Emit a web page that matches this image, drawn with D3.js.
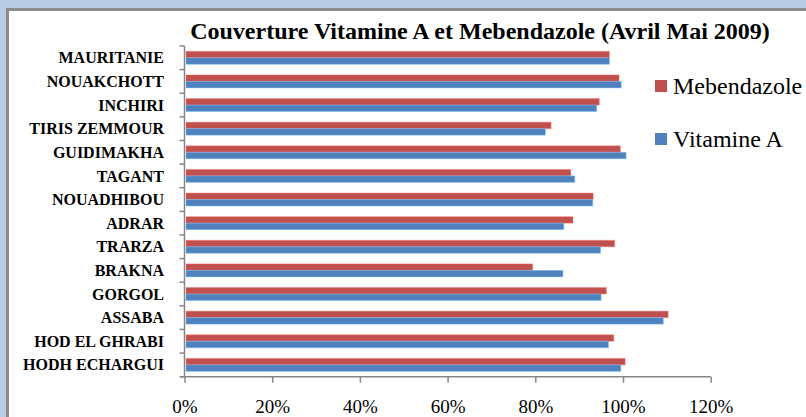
<!DOCTYPE html>
<html lang="en">
<head>
    <meta charset="UTF-8">
    <script src="https://cdn.jsdelivr.net/npm/d3@7/dist/d3.min.js"></script>
    <title>Couverture Vitamine A et Mebendazole</title>
    <style>
        body { margin: 0; background: #b9cde5; }
    </style>
</head>
<body>
    <script>
        var regions = ["MAURITANIE", "NOUAKCHOTT", "INCHIRI", "TIRIS ZEMMOUR", "GUIDIMAKHA", "TAGANT", "NOUADHIBOU",
            "ADRAR", "TRARZA", "BRAKNA", "GORGOL", "ASSABA", "HOD EL GHRABI", "HODH ECHARGUI"];
        var mebendazole = [96.9, 99.1, 94.6, 83.6, 99.4, 88.1, 93.2, 88.6, 98.1, 79.4, 96.2, 110.3, 97.9, 100.5];
        var vitamineA = [96.9, 99.6, 94.0, 82.3, 100.7, 89.0, 93.1, 86.5, 94.9, 86.3, 95.0, 109.2, 96.7, 99.5];
        var seriesNames = ["Mebendazole", "Vitamine A"];
        var seriesColors = ["#c0504d", "#4f81bd"];
        var xTicks = [0, 20, 40, 60, 80, 100, 120];

        var width = 806, height = 417;
        var serif = "'Liberation Serif'";
        var svg = d3.select("body").append("svg").attr("width", width).attr("height", height)
            .style("display", "block");

        // chart frame
        svg.append("rect").attr("x", 7.5).attr("y", 9.5).attr("width", width).attr("height", height)
            .attr("fill", "#fff").attr("stroke", "#8c8c8c").attr("stroke-width", 3);

        var x = d3.scaleLinear().domain([0, 120]).range([184.5, 710.7]);
        var y = d3.scaleBand().domain(regions).range([46, 376.7]).paddingInner(0.45).paddingOuter(0.225);
        var ySub = d3.scaleBand().domain(seriesNames).range([0, y.bandwidth()]);

        var rows = regions.map(function (r, i) {
            return { region: r, values: [mebendazole[i], vitamineA[i]] };
        });

        var groups = svg.selectAll("g.row").data(rows).enter().append("g").attr("class", "row")
            .attr("transform", function (d) { return "translate(0," + y(d.region) + ")"; });

        groups.selectAll("rect").data(function (d) {
            return d.values.map(function (v, j) { return { name: seriesNames[j], value: v, color: seriesColors[j] }; });
        }).enter().append("rect")
            .attr("x", x(0) + 1.5)
            .attr("y", function (d) { return ySub(d.name); })
            .attr("width", function (d) { return x(d.value) - x(0) - 1.5; })
            .attr("height", ySub.bandwidth())
            .attr("fill", function (d) { return d.color; })
            .attr("stroke", function (d) { return d3.color(d.color).brighter(1.2); })
            .attr("stroke-opacity", 0.45)
            .attr("stroke-width", 1);

        // axes
        var axisColor = "#868686";
        var yTop = y.range()[0], yBottom = y.range()[1];
        svg.append("line").attr("x1", x(0)).attr("x2", x(0)).attr("y1", yTop).attr("y2", yBottom)
            .attr("stroke", axisColor).attr("stroke-width", 1.5);
        svg.append("line").attr("x1", x(0) - 4).attr("x2", x(120)).attr("y1", yBottom).attr("y2", yBottom)
            .attr("stroke", axisColor).attr("stroke-width", 1.5);

        // y ticks between categories
        var boundaries = d3.range(regions.length + 1).map(function (i) { return yTop + i * y.step(); });
        svg.selectAll("line.ytick").data(boundaries).enter().append("line").attr("class", "ytick")
            .attr("x1", x(0) - 5).attr("x2", x(0)).attr("y1", function (d) { return d; }).attr("y2", function (d) { return d; })
            .attr("stroke", axisColor).attr("stroke-width", 1.5);

        svg.selectAll("text.ylabel").data(regions).enter().append("text").attr("class", "ylabel")
            .attr("x", 164).attr("y", function (d) { return y(d) + y.bandwidth() / 2; })
            .attr("dy", "0.35em").attr("text-anchor", "end")
            .style("font-family", serif).style("font-weight", "bold").style("font-size", "16px").style("fill", "#000")
            .text(function (d) { return d; });

        var xAxis = d3.axisBottom(x).tickValues(xTicks).tickSize(6).tickPadding(20)
            .tickFormat(function (d) { return d + "%"; });
        var gx = svg.append("g").attr("transform", "translate(0," + yBottom + ")").call(xAxis);
        gx.select(".domain").remove();
        gx.selectAll("line").attr("stroke", axisColor).attr("stroke-width", 1.5);
        gx.selectAll("text").attr("dy", "0.55em")
            .style("font-family", serif).style("font-size", "19px").style("fill", "#000");

        // title
        svg.append("text").attr("x", 480).attr("y", 39).attr("text-anchor", "middle")
            .style("font-family", serif).style("font-weight", "bold").style("font-size", "24px").style("fill", "#000")
            .text("Couverture Vitamine A et Mebendazole (Avril Mai 2009)");

        // legend
        var legend = svg.selectAll("g.legend").data(seriesNames).enter().append("g").attr("class", "legend")
            .attr("transform", function (d, i) { return "translate(655," + (80 + i * 53) + ")"; });
        legend.append("rect").attr("width", 12).attr("height", 12)
            .attr("fill", function (d, i) { return seriesColors[i]; });
        legend.append("text").attr("x", 18).attr("y", 14)
            .style("font-family", serif).style("font-size", "24px").style("fill", "#000")
            .text(function (d) { return d; });
    </script>
</body>
</html>
